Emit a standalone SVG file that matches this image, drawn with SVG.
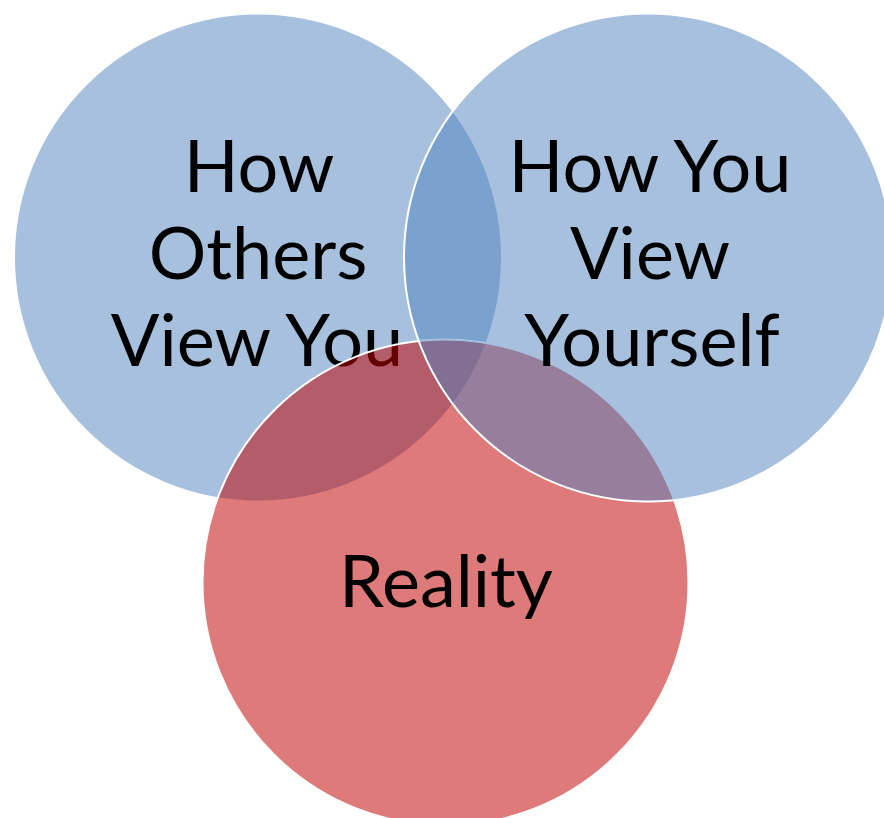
<svg xmlns="http://www.w3.org/2000/svg" width="884" height="818" viewBox="0 0 884 818">
<style>
.blue{fill:#4F81BD;fill-opacity:0.5;stroke:#ffffff;stroke-width:2}
.red{fill:#C00000;fill-opacity:0.52;stroke:#ffffff;stroke-width:2}
.lbl{font-family:Lato,"Open Sans","Liberation Sans",sans-serif;font-size:72px;fill:#000000;text-anchor:middle}
</style>
<rect width="884" height="818" fill="#ffffff"/>
<g id="others">
<circle class="blue" cx="258" cy="257.5" r="244"/>
<text class="lbl" x="259" y="192">How</text>
<text class="lbl" x="258" y="279">Others</text>
<text class="lbl" x="257" y="366">View You</text>
</g>
<g id="reality">
<circle class="red" cx="445.5" cy="582.5" r="243"/>
<text class="lbl" x="446" y="607">Reality</text>
</g>
<g id="yourself">
<circle class="blue" cx="648" cy="257.5" r="244"/>
<text class="lbl" x="650" y="192">How You</text>
<text class="lbl" x="650" y="279">View</text>
<text class="lbl" x="652" y="366">Yourself</text>
</g>
<g id="connectors"></g>
</svg>
